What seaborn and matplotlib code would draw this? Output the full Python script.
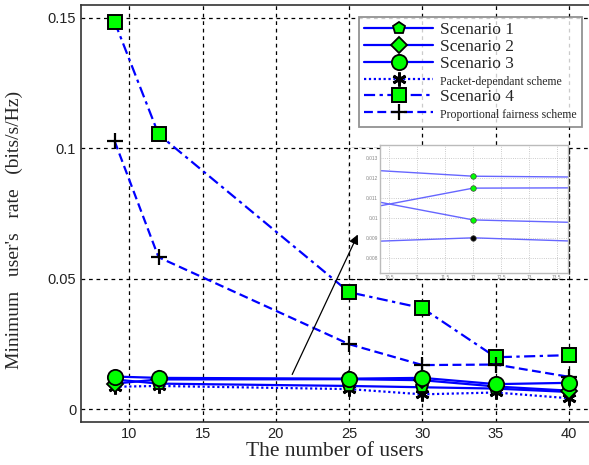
import matplotlib
matplotlib.use("Agg")
import matplotlib.pyplot as plt
import seaborn as sns
import pandas as pd
from matplotlib.patches import Rectangle

users = [9, 12, 25, 30, 35, 40]
scenario1 = [0.0115, 0.0099, 0.0090, 0.0085, 0.0080, 0.0067]
scenario2 = [0.0099, 0.0115, 0.0116, 0.0112, 0.0088, 0.0072]
scenario3 = [0.0126, 0.0121, 0.0118, 0.0121, 0.0097, 0.0102]
packet_dep = [0.0087, 0.0090, 0.0078, 0.0058, 0.0065, 0.0043]
scenario4 = [0.1485, 0.1054, 0.0449, 0.0388, 0.0200, 0.0208]
prop_fair = [0.1028, 0.0583, 0.0250, 0.0170, 0.0172, 0.0125]

labels = ["Scenario 1", "Scenario 2", "Scenario 3", "Packet-dependant scheme",
          "Scenario 4", "Proportional fairness scheme"]
series = [scenario1, scenario2, scenario3, packet_dep, scenario4, prop_fair]

xticks = [10, 15, 20, 25, 30, 35, 40]
yticks = [0, 0.05, 0.1, 0.15]
yticklabels = ["0", "0.05", "0.1", "0.15"]

rows = []
for lab, vals in zip(labels, series):
    for u, v in zip(users, vals):
        rows.append({"users": u, "rate": v, "series": lab})
df = pd.DataFrame(rows)

sns.set_style("white")
plt.rcParams["font.family"] = ["Liberation Sans", "DejaVu Sans"]

BLUE = "#0000ff"
GREEN = "#00ff00"
styles = {
    "Scenario 1": dict(ls="-", marker="p", ms=9, mfc=GREEN, mec="black", mew=1.3, lw=1.6),
    "Scenario 2": dict(ls="-", marker="D", ms=8, mfc=GREEN, mec="black", mew=1.3, lw=1.6),
    "Scenario 3": dict(ls="-", marker="o", ms=11, mfc=GREEN, mec="black", mew=1.3, lw=1.6),
    "Packet-dependant scheme": dict(ls=(0, (1, 1.2)), marker=(6, 2, 0), ms=10, mfc="black", mec="black", mew=2.0, lw=1.6),
    "Scenario 4": dict(ls=(0, (5, 2, 1.5, 2)), marker="s", ms=10, mfc=GREEN, mec="black", mew=1.4, lw=1.6),
    "Proportional fairness scheme": dict(ls=(0, (4, 2)), marker="+", ms=12, mfc="black", mec="black", mew=1.6, lw=1.6),
}

fig = plt.figure(figsize=(5.89, 4.65), dpi=100)
W, H = 589, 465
ax = fig.add_axes([81 / W, 1 - 422 / H, (589 - 81) / W, (422 - 5) / H])

order = ["Scenario 4", "Proportional fairness scheme", "Packet-dependant scheme",
         "Scenario 1", "Scenario 2", "Scenario 3"]
for lab in order:
    st = styles[lab]
    sub = df[df["series"] == lab]
    sns.lineplot(data=sub, x="users", y="rate", ax=ax, color=BLUE, label=lab,
                 linestyle=st["ls"], linewidth=st["lw"], marker=st["marker"],
                 markersize=st["ms"], markerfacecolor=st["mfc"],
                 markeredgecolor=st["mec"], markeredgewidth=st["mew"],
                 errorbar=None, sort=False)

ax.set_xlim(6.71, 41.36)
ax.set_ylim(-0.0048, 0.1549)
ax.set_xticks(xticks)
ax.set_yticks(yticks)
ax.set_yticklabels(yticklabels)
ax.tick_params(labelsize=10.5, length=4, direction="in", colors="black",
               labelcolor="#222222")
ax.grid(True, color="black", linestyle=(0, (3, 3)), linewidth=0.9)
for s in ["left", "bottom", "top"]:
    ax.spines[s].set_color("#333333")
    ax.spines[s].set_linewidth(1.2)
ax.spines["right"].set_visible(False)
ax.set_xlabel("The number of users", family="Liberation Serif", fontsize=15.5, labelpad=1)
ax.set_ylabel("Minimum   user's   rate   (bits/s/Hz)", family="Liberation Serif",
              fontsize=14, labelpad=8)
ax.yaxis.set_label_coords(-0.115, (422 - 230) / 417)

# legend in original order
handles, labs = ax.get_legend_handles_labels()
hmap = dict(zip(labs, handles))
leg = ax.legend([hmap[l] for l in labels], labels, loc="upper right",
                bbox_to_anchor=((582 - 81) / 508, 1 - 12 / 417), borderaxespad=0,
                frameon=True, fancybox=False, edgecolor="#777777", handlelength=4.0,
                handletextpad=0.4, labelspacing=0.05, borderpad=0.3,
                prop={"family": "Liberation Serif", "size": 12.5})
leg.get_frame().set_linewidth(1.3)
leg.set_zorder(10)
for t in leg.get_texts():
    if "scheme" in t.get_text():
        t.set_fontsize(8.5)

# white cover of the zoomed panel region (framed by the main grid lines)
ax.add_patch(Rectangle((25, 0.05), 15, 0.05, facecolor="white", edgecolor="none",
                       zorder=1.5))
ax.plot([25, 40, 40, 25, 25], [0.05, 0.05, 0.1, 0.1, 0.05], color="black",
        linestyle=(0, (3, 3)), linewidth=0.9, zorder=1.6)

# inset zoom
iax = fig.add_axes([380 / W, 1 - 273 / H, 188 / W, 128 / H])
for lab in ["Scenario 1", "Scenario 2", "Scenario 3", "Packet-dependant scheme"]:
    sub = df[df["series"] == lab]
    mfc = "black" if lab == "Packet-dependant scheme" else GREEN
    sns.lineplot(data=sub, x="users", y="rate", ax=iax, color="#6666ff", linewidth=1.0,
                 marker="o", markersize=4, markerfacecolor=mfc, markeredgecolor="#444444",
                 markeredgewidth=0.5, errorbar=None, legend=False)
iax.set_xlim(10.33, 13.70)
iax.set_ylim(0.00723, 0.01367)
iax.set_xticks([10.5, 11, 11.5, 12, 12.5, 13, 13.5])
iax.set_yticks([0.008, 0.009, 0.01, 0.011, 0.012, 0.013])
iax.set_xticklabels(["10.5", "11", "11.5", "12", "12.5", "13", "13.5"])
iax.set_yticklabels(["0.008", "0.009", "0.01", "0.011", "0.012", "0.013"])
iax.tick_params(labelsize=3.5, length=0, pad=1.5, colors="#888888")
iax.grid(True, color="#bbbbbb", linestyle=":", linewidth=0.6)
iax.set_xlabel("")
iax.set_ylabel("")
for s in iax.spines.values():
    s.set_color("#bbbbbb")
    s.set_linewidth(1.0)

# arrow
ax.annotate("", xy=(359, H - 232), xycoords="figure pixels",
            xytext=(291, H - 377), textcoords="figure pixels",
            arrowprops=dict(arrowstyle="-|>", color="black", lw=0.9, mutation_scale=14))

fig.savefig("out.png", dpi=100)
